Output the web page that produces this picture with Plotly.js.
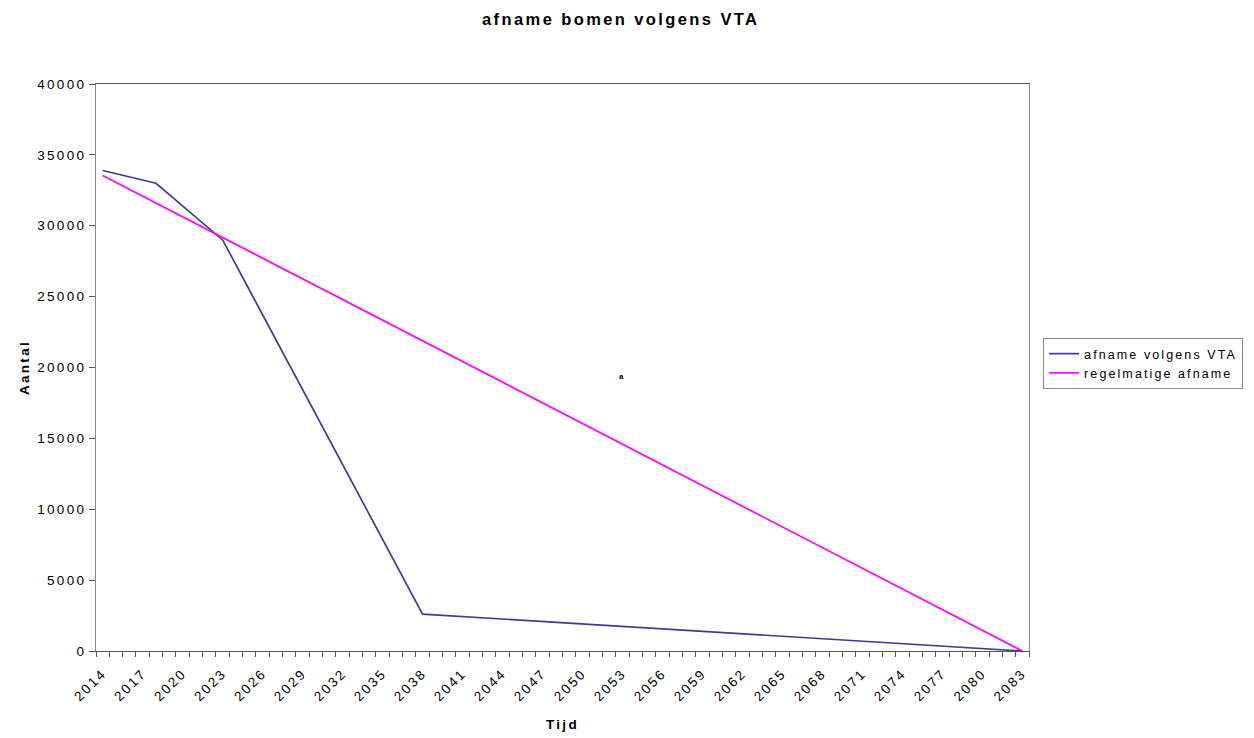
<!DOCTYPE html>
<html>
<head>
<meta charset="utf-8">
<script src="https://cdn.plot.ly/plotly-3.0.1.min.js"></script>
<style>
html,body{margin:0;padding:0;background:#fff;}
#chart{width:1254px;height:738px;}
text{letter-spacing:2.3px;}
text.gtitle{letter-spacing:2.4px;}
text.legendtext{letter-spacing:2.1px;}
</style>
</head>
<body>
<div id="chart"></div>
<script>
const vtaYears = [2014, 2018, 2023, 2038, 2083];
const vtaValues = [33900, 33000, 29000, 2600, 0];
const regYears = [2014, 2083];
const regValues = [33550, 0];
const labelYears = [2014,2017,2020,2023,2026,2029,2032,2035,2038,2041,2044,2047,2050,2053,2056,2059,2062,2065,2068,2071,2074,2077,2080,2083];
const yTicks = [0,5000,10000,15000,20000,25000,30000,35000,40000];

const font = 'Liberation Sans, Arial, sans-serif';
const traces = [
  {x: vtaYears, y: vtaValues, mode: 'lines', name: 'afname volgens VTA', line: {color: '#3c3c9c', width: 1.7}},
  {x: regYears, y: regValues, mode: 'lines', name: 'regelmatige afname', line: {color: '#ff00ff', width: 1.7}}
];
const layout = {
  width: 1254, height: 738,
  margin: {l: 96, r: 224, t: 84, b: 87},
  paper_bgcolor: '#fff', plot_bgcolor: '#fff',
  font: {family: font, size: 12, color: '#000'},
  title: {text: '<b>afname bomen volgens VTA</b>', font: {family: font, size: 16.5}, x: 0.495, xref: 'container', xanchor: 'center', y: 0.974, yanchor: 'middle'},
  xaxis: {
    range: [2013.5, 2083.5], tickmode: 'array', tickvals: labelYears, ticktext: labelYears.map(String),
    tickangle: -45, ticks: '', showgrid: false, zeroline: false, ticklabelstandoff: 8,
    showline: true, linecolor: '#555', linewidth: 1, mirror: true,
    minor: {ticks: 'outside', tick0: 2013.5, dtick: 1, ticklen: 5, tickcolor: '#555', showgrid: false},
    tickfont: {family: font, size: 13.5},
    title: {text: '<b>Tijd</b>', font: {family: font, size: 13.5}, standoff: 16}
  },
  yaxis: {
    range: [0, 40000], tickmode: 'array', tickvals: yTicks, ticktext: yTicks.map(String),
    ticks: 'outside', ticklen: 6, tickcolor: '#555', showgrid: false, zeroline: false,
    showline: true, linecolor: '#888', linewidth: 1, mirror: true,
    tickfont: {family: font, size: 13.5},
    title: {text: '<b>Aantal</b>', font: {family: font, size: 13.5}, standoff: 4}
  },
  legend: {x: 1.014, y: 0.552, xanchor: 'left', yanchor: 'top', bordercolor: '#888', borderwidth: 1,
    font: {family: font, size: 12.5}, bgcolor: '#fff', tracegroupgap: 2, itemwidth: 30},
  annotations: [{x: 2053, y: 19400, xref: 'x', yref: 'y', text: '<b>a</b>', showarrow: false, font: {family: font, size: 8}}],
  showlegend: true
};
Plotly.newPlot('chart', traces, layout, {displayModeBar: false, staticPlot: true});
</script>
</body>
</html>
